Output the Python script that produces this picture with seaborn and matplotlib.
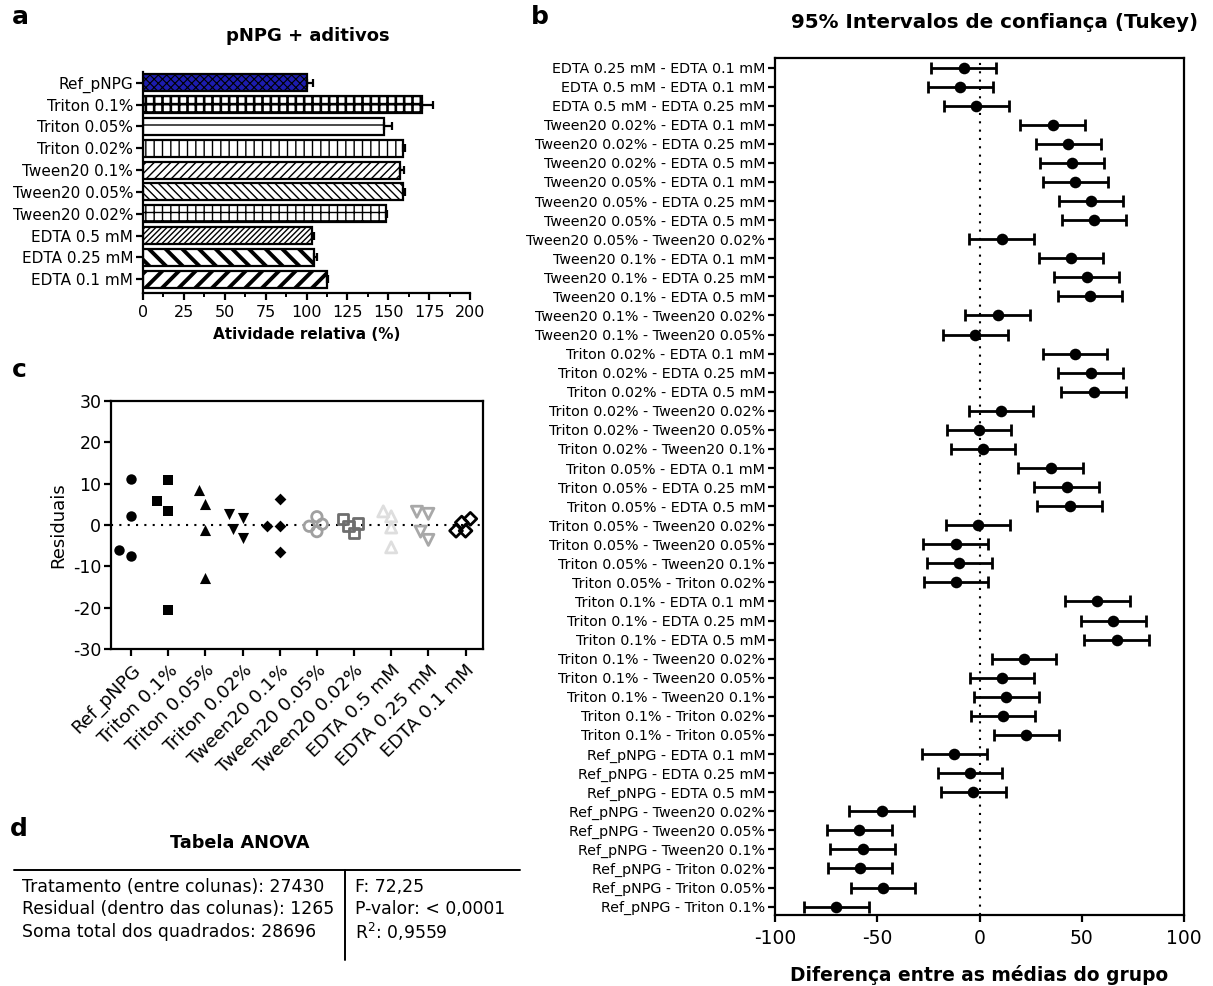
import numpy as np
import pandas as pd
import matplotlib
matplotlib.use("Agg")
import matplotlib.pyplot as plt
import seaborn as sns
from matplotlib.ticker import MultipleLocator
from matplotlib.lines import Line2D

# ---------------- data ----------------
groups = ["Ref_pNPG", "Triton 0.1%", "Triton 0.05%", "Triton 0.02%", "Tween20 0.1%",
          "Tween20 0.05%", "Tween20 0.02%", "EDTA 0.5 mM", "EDTA 0.25 mM", "EDTA 0.1 mM"]
activity = [100.0, 170.4, 147.3, 159.2, 157.1, 159.2, 148.6, 103.1, 104.7, 112.7]
activity_err = [4.0, 7.0, 4.8, 1.0, 2.5, 1.0, 0.8, 1.6, 1.5, 0.5]

comparisons = [
    "EDTA 0.25 mM - EDTA 0.1 mM", "EDTA 0.5 mM - EDTA 0.1 mM", "EDTA 0.5 mM - EDTA 0.25 mM",
    "Tween20 0.02% - EDTA 0.1 mM", "Tween20 0.02% - EDTA 0.25 mM", "Tween20 0.02% - EDTA 0.5 mM",
    "Tween20 0.05% - EDTA 0.1 mM", "Tween20 0.05% - EDTA 0.25 mM", "Tween20 0.05% - EDTA 0.5 mM",
    "Tween20 0.05% - Tween20 0.02%", "Tween20 0.1% - EDTA 0.1 mM", "Tween20 0.1% - EDTA 0.25 mM",
    "Tween20 0.1% - EDTA 0.5 mM", "Tween20 0.1% - Tween20 0.02%", "Tween20 0.1% - Tween20 0.05%",
    "Triton 0.02% - EDTA 0.1 mM", "Triton 0.02% - EDTA 0.25 mM", "Triton 0.02% - EDTA 0.5 mM",
    "Triton 0.02% - Tween20 0.02%", "Triton 0.02% - Tween20 0.05%", "Triton 0.02% - Tween20 0.1%",
    "Triton 0.05% - EDTA 0.1 mM", "Triton 0.05% - EDTA 0.25 mM", "Triton 0.05% - EDTA 0.5 mM",
    "Triton 0.05% - Tween20 0.02%", "Triton 0.05% - Tween20 0.05%", "Triton 0.05% - Tween20 0.1%",
    "Triton 0.05% - Triton 0.02%", "Triton 0.1% - EDTA 0.1 mM", "Triton 0.1% - EDTA 0.25 mM",
    "Triton 0.1% - EDTA 0.5 mM", "Triton 0.1% - Tween20 0.02%", "Triton 0.1% - Tween20 0.05%",
    "Triton 0.1% - Tween20 0.1%", "Triton 0.1% - Triton 0.02%", "Triton 0.1% - Triton 0.05%",
    "Ref_pNPG - EDTA 0.1 mM", "Ref_pNPG - EDTA 0.25 mM", "Ref_pNPG - EDTA 0.5 mM",
    "Ref_pNPG - Tween20 0.02%", "Ref_pNPG - Tween20 0.05%", "Ref_pNPG - Tween20 0.1%",
    "Ref_pNPG - Triton 0.02%", "Ref_pNPG - Triton 0.05%", "Ref_pNPG - Triton 0.1%",
]
mean_diff = [-7.8, -9.3, -1.5, 35.8, 43.5, 45.2, 46.9, 54.5, 56.0, 10.8, 44.8, 52.4, 54.1, 8.9, -2.1,
             46.7, 54.3, 55.8, 10.6, -0.2, 1.7, 34.8, 42.6, 44.1, -0.8, -11.7, -9.8, -11.5, 57.7, 65.5,
             67.0, 21.8, 11.0, 13.1, 11.5, 22.9, -12.3, -4.7, -3.0, -47.9, -58.7, -57.1, -58.5, -47.1, -70.0]
ci_half = 15.8

res_ref = [11.1, 2.1, -7.4, -6.0]
res_triton01 = [11.0, 5.8, 3.4, -20.5]
res_triton005 = [5.0, 8.4, -1.1, -12.9]
res_triton002 = [2.7, 1.8, -0.9, -3.2]
res_tween01 = [6.4, -0.2, -0.2, -6.5]
res_tween005 = [-0.3, -1.6, 0.2, 2.0]
res_tween002 = [0.4, -2.0, -0.2, 1.5]
res_edta05 = [2.1, 3.3, -0.6, -5.4]
res_edta025 = [3.2, 2.7, -1.6, -3.6]
res_edta01 = [0.6, -1.4, -1.4, 1.5]
residuals = [res_ref, res_triton01, res_triton005, res_triton002, res_tween01,
             res_tween005, res_tween002, res_edta05, res_edta025, res_edta01]

anova_left = ["Tratamento (entre colunas): 27430",
              "Residual (dentro das colunas): 1265",
              "Soma total dos quadrados: 28696"]
anova_right = ["F: 72,25", "P-valor: < 0,0001", "R$^{2}$: 0,9559"]

# ---------------- style ----------------
bar_faces = ["#1c1cae", "white", "white", "white", "white", "white", "white", "white", "white", "white"]
bar_hatches = ["xxxx", "++", "-", "||", "////", "\\\\\\\\", "++", "//////", "\\\\", "//"]
bar_hatch_lw = [0.8, 1.9, 1.0, 1.0, 1.0, 1.0, 1.0, 1.0, 2.8, 2.8]
res_markers = ["o", "s", "^", "v", "D", "o", "s", "^", "v", "D"]
res_layout = [9.5, 10.5, 11.0, 9.5, 9.0, 6.5, 6.5, 6.5, 8.0, 6.5]
res_sizes = [7.5, 7.5, 8.0, 8.0, 6.0, 7.5, 7.5, 8.0, 8.0, 6.5]
res_colors = ["black"] * 5 + ["#a0a0a0", "#6e6e6e", "#dedede", "#a8a8a8", "black"]
res_open = [False] * 5 + [True] * 5

sns.set_style("ticks")
plt.rcParams["font.family"] = ["DejaVu Sans"]
plt.rcParams["axes.unicode_minus"] = False
plt.rcParams["axes.linewidth"] = 1.6
plt.rcParams["xtick.major.width"] = 1.6
plt.rcParams["ytick.major.width"] = 1.6
plt.rcParams["xtick.minor.width"] = 1.4
plt.rcParams["xtick.major.size"] = 5
plt.rcParams["ytick.major.size"] = 5
plt.rcParams["xtick.minor.size"] = 3
plt.rcParams["xtick.color"] = "black"
plt.rcParams["ytick.color"] = "black"
plt.rcParams["text.color"] = "black"
plt.rcParams["axes.labelcolor"] = "black"
plt.rcParams["axes.edgecolor"] = "black"
plt.rcParams["hatch.linewidth"] = 1.0

W, H = 1213, 986
fig = plt.figure(figsize=(W / 100, H / 100), dpi=100)


def rect(l, t, r, b):
    return [l / W, 1 - b / H, (r - l) / W, (b - t) / H]


def ftext(x, y, s, **kw):
    fig.text(x / W, 1 - y / H, s, **kw)


# ---------------- panel a ----------------
axA = fig.add_axes(rect(143, 72, 470, 293))
sns.barplot(x=activity, y=groups, orient="h", ax=axA, color="white", edgecolor="black",
            linewidth=1.6, width=0.78, errorbar=None)
for p, fc, ht, hl in zip(axA.patches, bar_faces, bar_hatches, bar_hatch_lw):
    p.set_facecolor(fc)
    p.set_hatch(ht)
    p.set_edgecolor("black")
    if hasattr(p, "set_hatch_linewidth"):
        p.set_hatch_linewidth(hl)
axA.errorbar(activity, np.arange(len(groups)), xerr=[np.zeros(len(groups)), activity_err],
             fmt="none", ecolor="black", elinewidth=1.6, capsize=3, capthick=1.6)
axA.set_xlim(0, 200)
axA.set_ylim(9.63, -0.49)
axA.xaxis.set_major_locator(MultipleLocator(25))
axA.xaxis.set_minor_locator(MultipleLocator(12.5))
axA.tick_params(axis="x", labelsize=11.5)
axA.tick_params(axis="y", labelsize=11, pad=2)
axA.set_xlabel("Atividade relativa (%)", fontsize=11, fontweight="bold", labelpad=5)
axA.set_ylabel("")
sns.despine(ax=axA)

# ---------------- panel b ----------------
axB = fig.add_axes(rect(775, 58, 1184, 915))
ypos = np.arange(len(comparisons))
axB.axvline(0, color="black", lw=1.5, ls=(0, (1, 3)), zorder=1)
axB.errorbar(mean_diff, ypos, xerr=ci_half, fmt="none", ecolor="black", elinewidth=2,
             capsize=4, capthick=2, zorder=2)
sns.scatterplot(x=mean_diff, y=ypos, ax=axB, color="black", s=70, edgecolor="black",
                linewidth=0, zorder=3, legend=False)
axB.set_yticks(ypos)
axB.set_yticklabels(comparisons)
axB.set_ylim(len(comparisons) - 0.56, -0.5)
axB.set_xlim(-100, 100)
axB.set_xticks([-100, -50, 0, 50, 100])
axB.tick_params(axis="y", labelsize=10.3, pad=2)
axB.tick_params(axis="x", labelsize=13.5, pad=5)
axB.set_xlabel("Diferença entre as médias do grupo", fontsize=13.4, fontweight="bold", labelpad=12)
axB.set_ylabel("")

# ---------------- panel c ----------------
axC = fig.add_axes(rect(111, 401, 483, 649))
df_res = pd.DataFrame({
    "grupo": np.repeat(groups, [len(r) for r in residuals]),
    "residuo": np.concatenate(residuals),
})
axC.axhline(0, color="black", lw=1.5, ls=(0, (1, 3)), zorder=1)
swarm_sets = []
for g, m, lay, col in zip(groups, res_markers, res_layout, res_colors):
    n_before = len(axC.collections)
    sns.swarmplot(data=df_res[df_res["grupo"] == g], x="grupo", y="residuo", order=groups,
                  ax=axC, marker=m, size=lay, color=col, linewidth=0, zorder=3)
    swarm_sets.append(axC.collections[n_before:])
axC.set_xlim(-0.54, 9.47)
axC.set_ylim(-30, 30)
axC.yaxis.set_major_locator(MultipleLocator(10))
axC.set_xticks(np.arange(len(groups)))
axC.set_xticklabels(groups, rotation=45, ha="right", rotation_mode="anchor")
axC.tick_params(axis="x", labelsize=13.2, pad=4)
axC.tick_params(axis="y", labelsize=12.5, pad=2)
axC.set_xlabel("")
axC.set_ylabel("Residuais", fontsize=13, labelpad=4)

# ---------------- panel d ----------------
ftext(240, 843, "Tabela ANOVA", fontsize=12.7, fontweight="bold", ha="center", va="center")
fig.add_artist(Line2D([14 / W, 520 / W], [1 - 870 / H, 1 - 870 / H], color="black", lw=1.4))
fig.add_artist(Line2D([345 / W, 345 / W], [1 - 870 / H, 1 - 960 / H], color="black", lw=1.4))
for i, (tl, tr) in enumerate(zip(anova_left, anova_right)):
    y = 887 + i * 22.5
    ftext(22, y, tl, fontsize=12.4, ha="left", va="center")
    ftext(355, y, tr, fontsize=12.4, ha="left", va="center")

# ---------------- titles / letters ----------------
ftext(308, 36, "pNPG + aditivos", fontsize=13, fontweight="bold", ha="center", va="center")
ftext(995, 22, "95% Intervalos de confiança (Tukey)", fontsize=14.3, fontweight="bold",
      ha="center", va="center")
for lx, ly, lt in [(20, 17, "a"), (540, 17, "b"), (19, 370, "c"), (19, 829, "d")]:
    ftext(lx, ly, lt, fontsize=18, fontweight="bold", ha="center", va="center")

# swarm layout is computed at draw time; fix it, then set the displayed marker style
fig.canvas.draw()
for colls, sz, col, op in zip(swarm_sets, res_sizes, res_colors, res_open):
    for c in colls:
        if "draw" in c.__dict__:
            del c.draw
        c.set_sizes([sz ** 2])
        if op:
            c.set_facecolor("none")
            c.set_edgecolor(col)
            c.set_linewidth(2.0)

fig.savefig("out.png", dpi=100)
